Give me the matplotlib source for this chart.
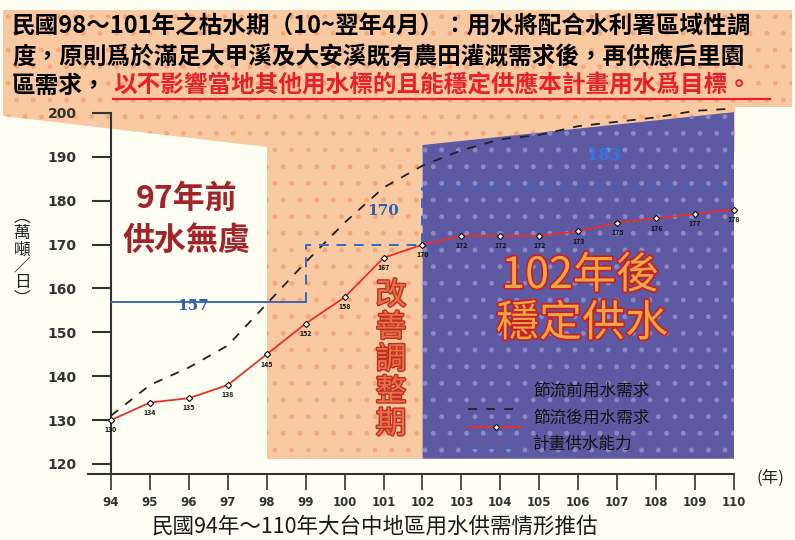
import matplotlib.pyplot as plt
from matplotlib.lines import Line2D
from matplotlib.patches import Polygon
import matplotlib.patheffects as pe

plt.rcParams['font.family'] = ['Noto Sans CJK TC', 'DejaVu Sans']
plt.rcParams['hatch.linewidth'] = 1.1

# data
years = list(range(94, 111))
demand_before = [131, 138, 142, 147, 156.5, 166, 175, 183, 188, 191.5,
                 194, 195, 197, 198, 199, 200.5, 201]
demand_after = [130, 134, 135, 138, 145, 152, 158, 167, 170, 172,
                172, 172, 173, 175, 176, 177, 178]
supply_years = [94, 99, 102, 110]
supply = [157, 170, 183]

title1 = '民國98～101年之枯水期（10~翌年4月）：用水將配合水利署區域性調'
title2 = '度，原則爲於滿足大甲溪及大安溪既有農田灌溉需求後，再供應后里園'
title3a = '區需求，'
title3b = '以不影響當地其他用水標的且能穩定供應本計畫用水爲目標。'
legend_labels = ['節流前用水需求', '節流後用水需求', '計畫供水能力']
caption = '民國94年～110年大台中地區用水供需情形推估'

W, H = 795, 540
def fx(x):
    return x / W
def fy(y):
    return 1 - y / H

peach = '#F9C9A1'
peach_dot = '#F4A97C'
blue = '#5D5AA3'
blue_dot = '#8C88C4'
red = '#E8302A'
sblue = '#2F5FB0'

fig = plt.figure(figsize=(7.95, 5.4), dpi=100)
fig.patch.set_facecolor('#FFFEF3')

# background banner (pixel coordinates)
bg = fig.add_axes([0, 0, 1, 1], zorder=-1)
bg.set_xlim(0, W)
bg.set_ylim(H, 0)
bg.axis('off')
banner = Polygon([(3, 10), (792, 10), (792, 107), (735, 107), (735, 152),
                  (267, 152), (267, 147), (3, 116)],
                 facecolor=peach, edgecolor=peach_dot, hatch='.', lw=0)
bg.add_patch(banner)

# main chart
ax = fig.add_axes([fx(88), fy(474), (734 - 88) / W, (474 - 113) / H])
ax.patch.set_alpha(0)
ax.set_xlim(93.41, 110)
ax.set_ylim(117.72, 200)

ax.fill_between([98, 102], 121.2, 192.5, facecolor=peach,
                edgecolor=peach_dot, hatch='.', lw=0, clip_on=False, zorder=0)
ax.add_patch(Polygon([(102, 121.2), (102, 192.7), (110, 200.2), (110, 121.2)],
                     facecolor=blue, edgecolor=blue_dot, hatch='.', lw=0,
                     clip_on=False, zorder=0))

ax.plot(years, demand_before, color='#222222', lw=1.3, ls=(0, (5, 5)),
        clip_on=False, zorder=3)
ax.plot(years, demand_after, color=red, lw=1.3, marker='D', ms=3.2,
        mfc='white', mec='#111111', mew=0.8, clip_on=False, zorder=4)
for x, v in zip(years, demand_after):
    ax.annotate(str(v), (x, v), xytext=(0, -7), textcoords='offset points',
                ha='center', va='center', fontsize=5, fontweight='bold',
                color='#111111', zorder=5, annotation_clip=False)

ax.plot(supply_years[:2], [supply[0]] * 2, color=sblue, lw=1.3, zorder=3)
ax.plot([supply_years[1], supply_years[1], supply_years[2], supply_years[2], supply_years[3]],
        [supply[0], supply[1], supply[1], supply[2], supply[2]],
        color='#3468C8', lw=1.4, ls=(0, (5, 4)), zorder=3, clip_on=False)
ax.text(96.1, 156.0, str(supply[0]), color=sblue, fontsize=11, fontweight='bold',
        family='DejaVu Serif', ha='center', va='center', zorder=5)
ax.text(101.0, 177.7, str(supply[1]), color=sblue, fontsize=11, fontweight='bold',
        family='DejaVu Serif', ha='center', va='center', zorder=5)
ax.text(106.65, 190.4, str(supply[2]), color='#2E78E8', fontsize=11.5, fontweight='bold',
        family='DejaVu Serif', ha='center', va='center', zorder=5)

for s in ['top', 'right']:
    ax.spines[s].set_visible(False)
ax.spines['left'].set_position(('data', 94))
ax.spines['left'].set_linewidth(1.5)
ax.spines['left'].set_color('#333333')
ax.spines['bottom'].set_linewidth(1.5)
ax.spines['bottom'].set_color('#333333')
ax.set_yticks(range(120, 201, 10))
ax.set_xticks(years)
ax.tick_params(axis='y', length=13.7, width=1.5, pad=11, labelsize=10,
               color='#333333', labelcolor='#333333')
ax.tick_params(axis='x', length=11.5, width=1.2, pad=4, labelsize=8.5,
               color='#333333', labelcolor='#333333')
for lbl in ax.get_xticklabels() + ax.get_yticklabels():
    lbl.set_fontweight('bold')
    lbl.set_family('DejaVu Sans')

# title banner text
fig.text(fx(12), fy(27), title1, fontsize=17, fontweight='bold', va='center')
fig.text(fx(12), fy(57), title2, fontsize=17, fontweight='bold', va='center')
fig.text(fx(12), fy(86), title3a, fontsize=17, fontweight='bold', va='center')
fig.text(fx(113), fy(86), title3b, fontsize=17, fontweight='bold', va='center',
         color='#E8202A')
fig.add_artist(Line2D([fx(113), fx(770)], [fy(99), fy(99)], color='#E8202A',
                      lw=1.6, transform=fig.transFigure))

# period annotations
dark_red = '#A3232A'
fig.text(fx(187), fy(199), '97年前', fontsize=23, fontweight='bold',
         color=dark_red, ha='center', va='center')
fig.text(fx(187), fy(241), '供水無虞', fontsize=23, fontweight='bold',
         color=dark_red, ha='center', va='center')
outline = [pe.withStroke(linewidth=2.5, foreground='#C8202A')]
fig.text(fx(580), fy(276), '102年後', fontsize=31, color='#F2A640',
         ha='center', va='center', path_effects=outline)
fig.text(fx(582), fy(324), '穩定供水', fontsize=31, color='#F2A640',
         ha='center', va='center', path_effects=outline)
fig.text(fx(391), fy(360), '改\n善\n調\n整\n期', fontsize=22, color='#E8704A',
         ha='center', va='center', linespacing=1.05,
         path_effects=[pe.withStroke(linewidth=2, foreground='#C03020')])

# legend
leg_y = [409, 427, 448]
fig.add_artist(Line2D([fx(468), fx(522)], [fy(leg_y[0])] * 2, color='#222222',
                      lw=1.3, ls=(0, (5, 5)), transform=fig.transFigure))
fig.add_artist(Line2D([fx(468), fx(522)], [fy(leg_y[1])] * 2, color=red,
                      lw=1.3, transform=fig.transFigure))
fig.add_artist(Line2D([fx(496)], [fy(leg_y[1])], marker='D', ms=3.2, mfc='white',
                      mec='#111111', mew=0.8, transform=fig.transFigure))
fig.add_artist(Line2D([fx(468), fx(522)], [fy(leg_y[2])] * 2, color='#3468C8',
                      lw=1.4, ls=(0, (5, 4)), transform=fig.transFigure))
for y, t in zip([391, 418, 444], legend_labels):
    fig.text(fx(533), fy(y), t, fontsize=12, va='center', color='#111111')

# axis labels and caption
fig.text(fx(22), fy(258), '︵\n萬\n噸\n／\n日\n︶', fontsize=12, ha='center',
         va='center', linespacing=0.95, color='#222222')
fig.text(fx(770), fy(478), '(年)', fontsize=12, ha='center', va='center',
         color='#222222')
fig.text(fx(375), fy(527), caption, fontsize=15.5, ha='center', va='center',
         color='#1a1a1a')

fig.savefig('out.png', dpi=100, facecolor=fig.get_facecolor())
